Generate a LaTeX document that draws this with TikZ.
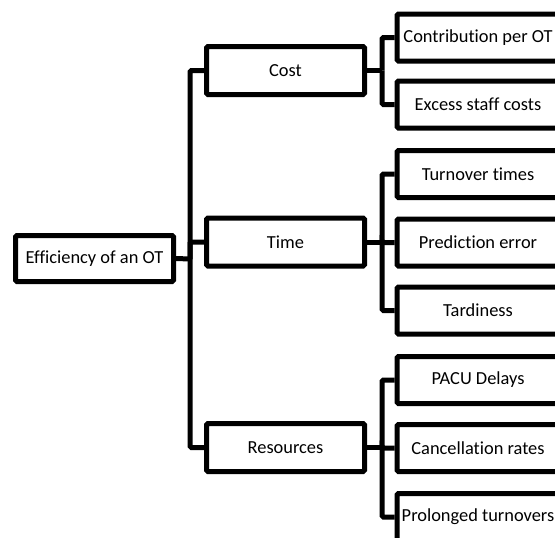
\documentclass[tikz,border=0pt]{standalone}
\usepackage{fontspec}
\setmainfont[Ligatures=CommonOff]{Carlito}
\begin{document}
\begin{tikzpicture}[x=1pt,y=-1pt,
  box/.style={draw=black, line width=5pt, rounded corners=1.5pt, minimum height=47pt, inner sep=0pt, font=\fontsize{18.4}{21}\selectfont},
  lvl/.style={box, minimum width=158pt},
  leaf/.style={box, minimum width=162pt},
  conn/.style={draw=black, line width=5pt, rounded corners=1.5pt}]
\useasboundingbox (0,0) rectangle (555,538);
\clip (0,0) rectangle (555,538);
\fill[white] (0,0) rectangle (555,538);
% nodes
\node[lvl, minimum height=46pt] (root) at (94.5,258.5) {Efficiency of an OT};
\node[lvl, minimum height=48pt] (cost) at (285.5,70.5) {Cost};
\node[lvl, minimum height=48pt] (time) at (285.5,242) {Time};
\node[lvl, minimum height=48pt] (res) at (285.5,447.5) {Resources};
\node[leaf] (contrib) at (478,37.5) {Contribution per OT};
\node[leaf] (excess) at (478,104.5) {Excess staff costs};
\node[leaf] (turn) at (478,174) {Turnover times};
\node[leaf] (pred) at (478,242.5) {Prediction error};
\node[leaf] (tard) at (478,310.5) {Tardiness};
\node[leaf] (pacu) at (478,380) {PACU Delays};
\node[leaf] (canc) at (478,448) {Cancellation rates};
\node[leaf] (prol) at (478,517) {Prolonged turnovers};
% junction coordinates
\coordinate (j0) at (190,259);
\coordinate (j1) at (382,70.5);
\coordinate (j2) at (382,242);
\coordinate (j3) at (382,447.5);
% connectors
\draw[conn] (root.east) -- (j0);
\draw[conn] (j0) |- (cost.west);
\draw[conn] (j0) |- (time.west);
\draw[conn] (j0) |- (res.west);
\draw[conn] (cost.east) -- (j1);
\draw[conn] (j1) |- (contrib.west);
\draw[conn] (j1) |- (excess.west);
\draw[conn] (time.east) -- (j2);
\draw[conn] (j2) |- (turn.west);
\draw[conn] (j2) |- (pred.west);
\draw[conn] (j2) |- (tard.west);
\draw[conn] (res.east) -- (j3);
\draw[conn] (j3) |- (pacu.west);
\draw[conn] (j3) |- (canc.west);
\draw[conn] (j3) |- (prol.west);
\end{tikzpicture}
\end{document}
